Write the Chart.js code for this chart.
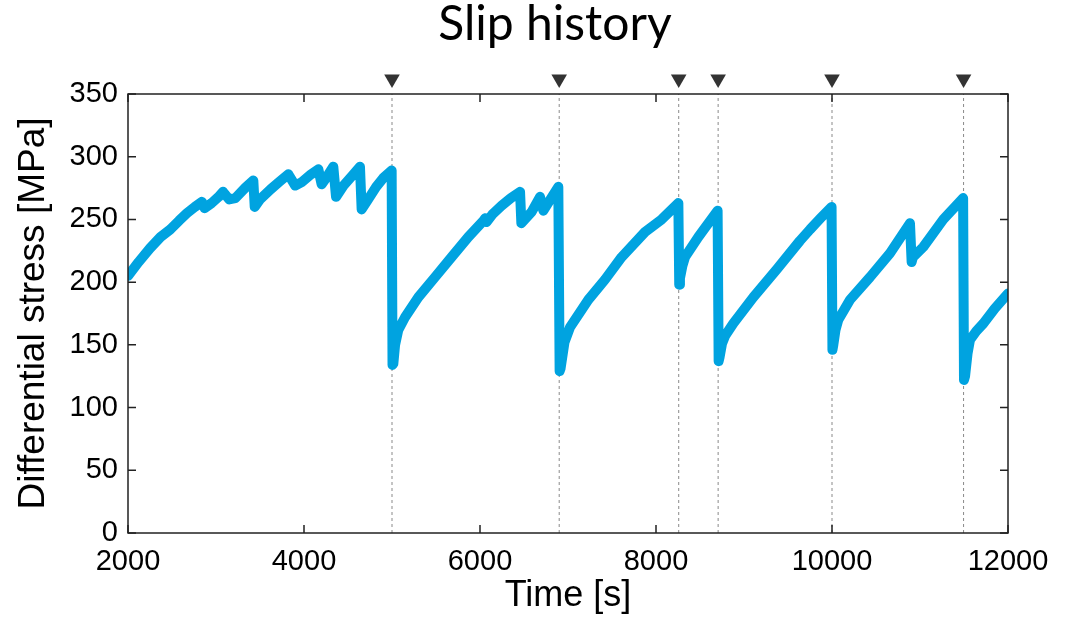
<!DOCTYPE html>
<html>
<head>
<meta charset="utf-8">
<script src="https://cdn.jsdelivr.net/npm/chart.js@4/dist/chart.umd.min.js"></script>
<style>
  html, body { margin: 0; padding: 0; background: #fff; }
  #wrap { width: 1066px; height: 618px; }
</style>
</head>
<body>
<div id="wrap"><canvas id="c" width="1066" height="618"></canvas></div>
<script>
// Differential stress record [MPa] against time [s]
const timeS = [
  2000, 2120, 2250, 2370, 2480, 2580, 2670, 2760, 2840, 2870, 2950, 3030, 3080, 3150, 3220, 3330, 3424,
  3440, 3500, 3620, 3720, 3822, 3900, 3980, 4080, 4163, 4200, 4270, 4333, 4364, 4450, 4550, 4636,
  4655, 4720, 4820, 4900, 4996,
  5006, 5015, 5035, 5072, 5148, 5299, 5489, 5678, 5867, 6040, 6060, 6075, 6140, 6246, 6350, 6455,
  6470, 6587, 6682, 6720, 6800, 6890,
  6905, 6915, 6960, 7023, 7231, 7420, 7610, 7875, 8064, 8254,
  8264, 8272, 8300, 8330, 8481, 8700,
  8712, 8722, 8750, 8784, 8878, 9106, 9371, 9636, 9750, 9870, 9995,
  10005, 10015, 10040, 10072, 10205, 10432, 10659, 10886,
  10905, 10920, 11037, 11265, 11490,
  11500, 11512, 11540, 11568, 11640, 11720, 11850, 12000
];
const stressMPa = [
  205, 216, 227, 236, 242, 249, 255, 260, 264, 259, 263, 268, 272, 266, 267, 275, 281,
  260, 266, 274, 280, 286, 277, 280, 286, 290, 278, 285, 292, 268, 277, 285, 292,
  258, 265, 276, 283, 289,
  134, 135, 150, 162, 172, 188, 204, 220, 236, 249, 251, 248, 254, 261, 267, 272,
  247, 256, 268, 257, 266, 276,
  129, 131, 152, 164, 186, 202, 220, 240, 250, 263,
  198, 203, 213, 220, 236, 257,
  137, 140, 151, 157, 167, 188, 210, 233, 242, 251, 260,
  146, 150, 162, 170, 186, 204, 223, 247,
  216, 220, 228, 250, 267,
  122, 125, 143, 154, 161, 167, 179, 191
];

// Times of the slip events (marked with a triangle and a dotted line)
const slipTimes = [5000, 6900, 8258, 8706, 10000, 11495];
const markerLevel = 362;

// Axis ticks
const xTicks = [2000, 4000, 6000, 8000, 10000, 12000];
const yTicks = [0, 50, 100, 150, 200, 250, 300, 350];

const stressPoints = timeS.map((t, i) => ({ x: t, y: stressMPa[i] }));

const slipLineSets = slipTimes.map(t => ({
  data: [{ x: t, y: 0 }, { x: t, y: 350 }],
  borderColor: '#8a8a8a',
  borderWidth: 1,
  borderDash: [3, 3],
  pointRadius: 0,
  order: 3
}));

// Nudge the title block so the heading sits a little right of the canvas centre
const titleShift = {
  id: 'titleShift',
  afterLayout(chart) {
    const tb = chart.titleBlock;
    if (tb) { tb.left += 51; tb.right += 51; }
  }
};

// Frame with inward tick marks on all four sides, plus the slip markers above it
const framePlugin = {
  id: 'frame',
  afterDatasetsDraw(chart) {
    const { ctx, chartArea: a, scales } = chart;
    ctx.save();
    ctx.strokeStyle = '#222';
    ctx.lineWidth = 1.5;
    ctx.strokeRect(a.left, a.top, a.right - a.left, a.bottom - a.top);
    const len = 8;
    ctx.beginPath();
    xTicks.forEach(v => {
      const px = scales.x.getPixelForValue(v);
      ctx.moveTo(px, a.bottom); ctx.lineTo(px, a.bottom - len);
      ctx.moveTo(px, a.top); ctx.lineTo(px, a.top + len);
    });
    yTicks.forEach(v => {
      const py = scales.y.getPixelForValue(v);
      ctx.moveTo(a.left, py); ctx.lineTo(a.left + len, py);
      ctx.moveTo(a.right, py); ctx.lineTo(a.right - len, py);
    });
    ctx.stroke();

    // downward triangles marking each slip event
    const r = 9;
    ctx.fillStyle = '#333';
    slipTimes.forEach(t => {
      const px = scales.x.getPixelForValue(t);
      const py = scales.y.getPixelForValue(markerLevel);
      ctx.beginPath();
      ctx.moveTo(px, py + r);
      ctx.lineTo(px - r * Math.sqrt(3) / 2, py - r / 2);
      ctx.lineTo(px + r * Math.sqrt(3) / 2, py - r / 2);
      ctx.closePath();
      ctx.fill();
    });
    ctx.restore();
  }
};

new Chart(document.getElementById('c'), {
  type: 'line',
  data: {
    datasets: [
      {
        data: stressPoints,
        borderColor: '#00a3e0',
        borderWidth: 10,
        borderJoinStyle: 'round',
        borderCapStyle: 'round',
        pointRadius: 0,
        tension: 0,
        fill: false,
        order: 1
      },
      ...slipLineSets
    ]
  },
  options: {
    responsive: false,
    animation: false,
    events: [],
    layout: { padding: { left: 0, right: 58, top: 0, bottom: 0 } },
    plugins: {
      legend: { display: false },
      tooltip: { enabled: false },
      title: {
        display: true,
        text: 'Slip history',
        color: '#000',
        font: { family: 'Lato', size: 48, weight: 'normal', lineHeight: 1 },
        padding: { top: 1, bottom: 45 }
      }
    },
    scales: {
      x: {
        type: 'linear',
        min: 2000,
        max: 12000,
        afterFit(s) { s.height = 85; },
        afterBuildTicks(s) { s.ticks = xTicks.map(v => ({ value: v })); },
        grid: { display: false, drawTicks: false },
        border: { display: false },
        ticks: {
          color: '#000',
          padding: 12,
          maxRotation: 0,
          callback: v => String(v),
          font: { family: 'Liberation Sans', size: 29 }
        },
        title: {
          display: true,
          text: 'Time [s]',
          color: '#000',
          font: { family: 'Liberation Sans', size: 36, lineHeight: 1.2 },
          padding: { top: 0, bottom: 0 }
        }
      },
      y: {
        type: 'linear',
        min: 0,
        max: 350,
        afterFit(s) { s.width = 128; },
        afterBuildTicks(s) { s.ticks = yTicks.map(v => ({ value: v })); },
        grid: { display: false, drawTicks: false },
        border: { display: false },
        ticks: {
          color: '#000',
          padding: 10,
          callback: v => String(v),
          font: { family: 'Liberation Sans', size: 29 }
        },
        title: {
          display: true,
          text: 'Differential stress [MPa]',
          color: '#000',
          font: { family: 'Liberation Sans', size: 37, lineHeight: 1.2 },
          padding: { top: 12, bottom: 0 }
        }
      }
    }
  },
  plugins: [titleShift, framePlugin]
});
</script>
</body>
</html>
